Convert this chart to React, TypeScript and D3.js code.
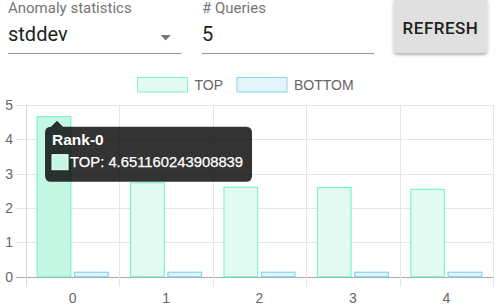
import React from "react";
import * as d3 from "d3";

const categories = ["0", "1", "2", "3", "4"];
const seriesNames = ["TOP", "BOTTOM"];
const topValues = [4.651160243908839, 2.73, 2.6, 2.59, 2.54];
const bottomValues = [0.13, 0.13, 0.13, 0.13, 0.13];
const yTicks = [0, 1, 2, 3, 4, 5];
const hoverIndex = 0;

const W = 500;
const H = 308;
const left = 26;
const right = 493;
const top = 104.7;
const bottom = 276.7;

const chartFont = "'Liberation Sans', Arial, Helvetica, sans-serif";
const uiFont = "Roboto, 'Noto Sans', sans-serif";

const colors: Record<string, { fill: string; hover: string; stroke: string }> = {
  TOP: { fill: "#e3fcf3", hover: "#c4f8e4", stroke: "#7ff3c9" },
  BOTTOM: { fill: "#e3f5fb", hover: "#c8ecf8", stroke: "#86d4ee" },
};

export default function App() {
  const x = d3.scaleBand<string>().domain(categories).range([left, right]);
  const bw = x.bandwidth();
  const sub = d3
    .scaleBand<string>()
    .domain(seriesNames)
    .range([bw * 0.1, bw * 0.9])
    .paddingInner(0.1)
    .paddingOuter(0.05);
  const y = d3.scaleLinear().domain([0, 5]).range([bottom, top]);

  const series = [
    { name: "TOP", values: topValues },
    { name: "BOTTOM", values: bottomValues },
  ];

  // tooltip geometry (anchored on the hovered TOP bar)
  const tipX = (x(categories[hoverIndex]) ?? 0) + (sub("TOP") ?? 0) + sub.bandwidth() / 2 + 3;
  const tipY = y(topValues[hoverIndex]) + 4;
  const boxX = tipX - 12;
  const boxY = tipY + 6;
  const boxW = 207;
  const boxH = 55;
  const r = 6;
  const tipPath = [
    `M${boxX + r},${boxY}`,
    `L${tipX - 6},${boxY}`,
    `L${tipX},${tipY}`,
    `L${tipX + 6},${boxY}`,
    `L${boxX + boxW - r},${boxY}`,
    `Q${boxX + boxW},${boxY} ${boxX + boxW},${boxY + r}`,
    `L${boxX + boxW},${boxY + boxH - r}`,
    `Q${boxX + boxW},${boxY + boxH} ${boxX + boxW - r},${boxY + boxH}`,
    `L${boxX + r},${boxY + boxH}`,
    `Q${boxX},${boxY + boxH} ${boxX},${boxY + boxH - r}`,
    `L${boxX},${boxY + r}`,
    `Q${boxX},${boxY} ${boxX + r},${boxY}`,
    "Z",
  ].join(" ");

  return (
    <div style={{ position: "absolute", left: 0, top: 0 }}>
      <svg width={W} height={H} style={{ display: "block" }}>
        <defs>
          <filter id="btnShadow" x="-20%" y="-20%" width="140%" height="160%">
            <feDropShadow dx="0" dy="2" stdDeviation="1.6" floodColor="#000" floodOpacity="0.3" />
          </filter>
        </defs>
        <rect width={W} height={H} fill="#fff" />

        {/* controls */}
        <text x={8} y={13} fontFamily={uiFont} fontSize={15} fill="#757575">
          Anomaly statistics
        </text>
        <text x={8} y={40.5} fontFamily={uiFont} fontSize={20} fill="#212121">
          stddev
        </text>
        <path d="M160.7,35 L170.7,35 L165.7,40.5 Z" fill="#757575" />
        <line x1={8} x2={181.5} y1={53.5} y2={53.5} stroke="#949494" />

        <text x={202} y={13} fontFamily={uiFont} fontSize={15} fill="#757575">
          # Queries
        </text>
        <text x={202} y={40.5} fontFamily={uiFont} fontSize={20} fill="#212121">
          5
        </text>
        <line x1={202} x2={374} y1={53.5} y2={53.5} stroke="#949494" />

        <rect x={393.5} y={-2} width={94} height={55} rx={4} fill="#e0e0e0" filter="url(#btnShadow)" />
        <text
          x={440.5}
          y={33.5}
          textAnchor="middle"
          fontFamily={uiFont}
          fontWeight={500}
          fontSize={17}
          letterSpacing={0.5}
          fill="#212121"
        >
          REFRESH
        </text>

        {/* legend */}
        {seriesNames.map((s, i) => {
          const lx = i === 0 ? 137.5 : 237;
          return (
            <g key={s}>
              <rect x={lx} y={77.5} width={50} height={14.5} fill={colors[s].fill} stroke={colors[s].stroke} />
              <text x={lx + 57} y={90} fontFamily={chartFont} fontSize={14} fill="#666">
                {s}
              </text>
            </g>
          );
        })}

        {/* grid */}
        {yTicks.map((t) => (
          <g key={"y" + t}>
            <line
              x1={left - 10}
              x2={right}
              y1={Math.round(y(t)) + 0.5}
              y2={Math.round(y(t)) + 0.5}
              stroke={t === 0 ? "#aaa" : "#e6e6e6"}
            />
            <text
              x={left - 13}
              y={y(t) + 5}
              textAnchor="end"
              fontFamily={chartFont}
              fontSize={14}
              fill="#666"
            >
              {t}
            </text>
          </g>
        ))}
        {categories.map((c, i) => (
          <line
            key={"gx" + c}
            x1={Math.round(x(c)!) + 0.5}
            x2={Math.round(x(c)!) + 0.5}
            y1={top}
            y2={bottom + 10}
            stroke={i === 0 ? "#d9d9d9" : "#e6e6e6"}
          />
        ))}
        <line x1={right + 0.5} x2={right + 0.5} y1={top} y2={bottom + 10} stroke="#e6e6e6" />

        {/* bars */}
        {series.map((s) =>
          s.values.map((v, i) => {
            const bx = (x(categories[i]) ?? 0) + (sub(s.name) ?? 0);
            const hovered = i === hoverIndex && s.name === "TOP";
            return (
              <rect
                key={s.name + i}
                x={bx}
                y={y(v)}
                width={sub.bandwidth()}
                height={bottom - y(v)}
                fill={hovered ? colors[s.name].hover : colors[s.name].fill}
                stroke={colors[s.name].stroke}
                strokeWidth={1.2}
              />
            );
          })
        )}

        {/* x tick labels */}
        {categories.map((c) => (
          <text
            key={"xl" + c}
            x={(x(c) ?? 0) + bw / 2}
            y={303}
            textAnchor="middle"
            fontFamily={chartFont}
            fontSize={14}
            fill="#666"
          >
            {c}
          </text>
        ))}

        {/* tooltip */}
        <path d={tipPath} fill="rgba(0,0,0,0.8)" />
        <text x={boxX + 7} y={boxY + 18} fontFamily={chartFont} fontWeight="bold" fontSize={15.5} fill="#fff">
          Rank-{categories[hoverIndex]}
        </text>
        <rect x={boxX + 7} y={boxY + 28} width={16} height={15} fill={colors.TOP.hover} stroke="#fff" strokeWidth={1} />
        <text x={boxX + 25} y={boxY + 40} fontFamily={chartFont} fontSize={14.8} fill="#fff" stroke="#fff" strokeWidth={0.25}>
          TOP: {topValues[hoverIndex]}
        </text>
      </svg>
    </div>
  );
}
